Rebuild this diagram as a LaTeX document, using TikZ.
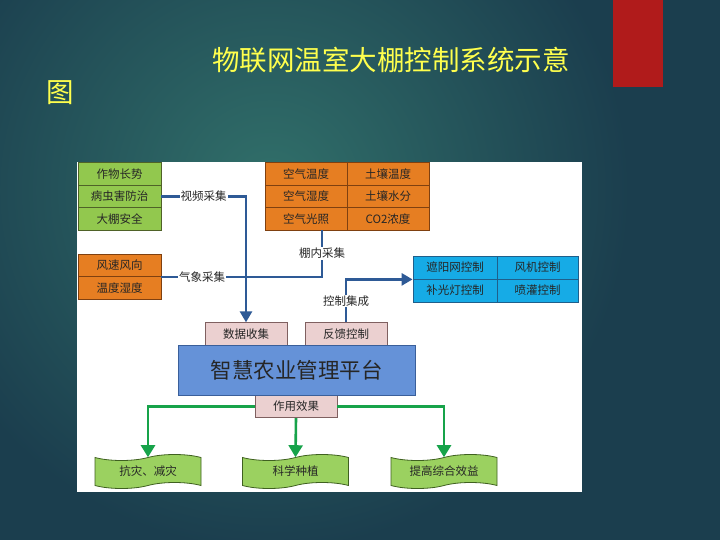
\documentclass[tikz,border=0pt]{standalone}
\usepackage{fontspec}
\setmainfont{Noto Sans CJK SC}
\usetikzlibrary{arrows.meta,shapes.symbols}
\definecolor{bgdark}{HTML}{1B3E4E}
\definecolor{bglight}{HTML}{31706A}
\definecolor{redbar}{HTML}{B01B1B}
\definecolor{titley}{HTML}{FFFF4D}
\definecolor{gcell}{HTML}{92C84E}
\definecolor{gedge}{HTML}{4F6228}
\definecolor{ocell}{HTML}{E67E22}
\definecolor{oedge}{HTML}{7F4010}
\definecolor{bcell}{HTML}{16ABE6}
\definecolor{bedge}{HTML}{1F5F8B}
\definecolor{pcell}{HTML}{EBD0D0}
\definecolor{pedge}{HTML}{7F6060}
\definecolor{plat}{HTML}{6592D8}
\definecolor{platedge}{HTML}{3A5F9A}
\definecolor{conblue}{HTML}{2E5A96}
\definecolor{congreen}{HTML}{17A34A}
\definecolor{tfill}{HTML}{9BD160}
\definecolor{tedge}{HTML}{3F6020}
\definecolor{txt}{HTML}{262626}
\begin{document}
\begin{tikzpicture}[x=1pt,y=-1pt,
  cell/.style={rectangle,draw,line width=0.8pt,inner sep=0pt,text=txt,
    font=\fontsize{11.5}{13}\selectfont},
  cellg/.style={cell,fill=gcell,draw=gedge,minimum width=83pt,minimum height=22.4pt},
  cello/.style={cell,fill=ocell,draw=oedge,minimum width=82pt,minimum height=22.4pt},
  cellb/.style={cell,fill=bcell,draw=bedge,minimum height=23pt},
  pinkbox/.style={cell,fill=pcell,draw=pedge,minimum width=82pt,minimum height=22.5pt},
  platbox/.style={rectangle,draw=platedge,fill=plat,line width=0.8pt,minimum width=237pt,
    minimum height=50pt,text=txt,font=\fontsize{21.5}{24}\selectfont},
  tapebox/.style={tape,draw=tedge,fill=tfill,line width=0.8pt,minimum width=106pt,
    minimum height=34pt,tape bend top=in and out,tape bend bottom=in and out,
    tape bend height=6pt,text=txt,font=\fontsize{11.5}{13}\selectfont},
  lbl/.style={fill=white,inner sep=1pt,text=txt,font=\fontsize{11.5}{13}\selectfont},
  conn/.style={draw=conblue,line width=2.6pt},
  connarrow/.style={conn,-{Triangle[width=12pt,length=11pt]}},
  gconn/.style={draw=congreen,line width=2.6pt,-{Triangle[width=14pt,length=12pt]}}
]
\useasboundingbox (0,0) rectangle (720,540);
\begin{scope}
\clip (0,0) rectangle (720,540);
\fill[bgdark] (0,0) rectangle (720,540);
\shade[inner color=bglight,outer color=bgdark] (270,190) circle (360);
\end{scope}
% red bar
\fill[redbar] (613,0) rectangle (663,87);
% title
\node[anchor=west,inner sep=0pt,text=titley,font=\fontsize{27.5}{30}\selectfont] (title) at (212,60) {物联网温室大棚控制系统示意};
\node[anchor=west,inner sep=0pt,text=titley,font=\fontsize{27.5}{30}\selectfont] (title2) at (46,93) {图};
% white panel
\fill[white] (77,162) rectangle (582,492);
% green grid
\node[cellg] (g1) at (119.5,174) {作物长势};
\node[cellg] (g2) at (119.5,196.5) {病虫害防治};
\node[cellg] (g3) at (119.5,219) {大棚安全};
% orange grid top
\node[cello] (o11) at (306,174) {空气温度};
\node[cello] (o12) at (388,174) {土壤温度};
\node[cello] (o21) at (306,196.5) {空气湿度};
\node[cello] (o22) at (388,196.5) {土壤水分};
\node[cello] (o31) at (306,219) {空气光照};
\node[cello] (o32) at (388,219) {CO2浓度};
% weather
\node[cellg,fill=ocell,draw=oedge] (w1) at (119.5,265.3) {风速风向};
\node[cellg,fill=ocell,draw=oedge] (w2) at (119.5,287.7) {温度湿度};
% blue control grid
\node[cellb,minimum width=84pt] (b11) at (455,267.5) {遮阳网控制};
\node[cellb,minimum width=81pt] (b12) at (537.5,267.5) {风机控制};
\node[cellb,minimum width=84pt] (b21) at (455,290.5) {补光灯控制};
\node[cellb,minimum width=81pt] (b22) at (537.5,290.5) {喷灌控制};
% pink boxes and platform
\node[pinkbox] (collect) at (246,334) {数据收集};
\node[pinkbox] (fb) at (346,334) {反馈控制};
\node[pinkbox] (eff) at (296,406.5) {作用效果};
\node[platbox] (plat) at (296.5,370) {智慧农业管理平台};
% tapes
\node[tapebox] (t1) at (148,471.5) {抗灾、减灾};
\node[tapebox] (t2) at (295.5,471.5) {科学种植};
\node[tapebox] (t3) at (444,471.5) {提高综合效益};
% connectors
\coordinate (tap) at (322,230.2);
\draw[conn] (w1.south east) -| (tap)
  node[lbl,pos=0.127] {气象采集}
  node[lbl,pos=0.75] {棚内采集};
\draw[connarrow] (g2.east) -| (collect.north)
  node[lbl,pos=0.25] {视频采集};
\draw[connarrow] (fb.north) |- (b11.south west)
  node[lbl,pos=0.25] {控制集成};
\draw[gconn] (eff.west) -| (t1.north);
\draw[gconn] (eff.east) -| (t3.north);
\draw[gconn] (eff.south) -- (t2.north);
\end{tikzpicture}
\end{document}
